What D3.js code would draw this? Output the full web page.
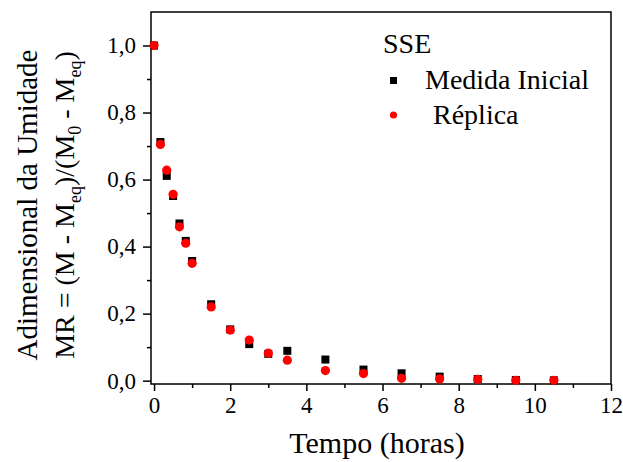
<html>
  <head>
    <style>
      body { margin: 0; background: #fff; }
      text { font-family: "Liberation Serif", "Times New Roman", serif; fill: #000; }
      .axis path, .axis line { stroke: #000; stroke-width: 1.5; }
      .axis text { font-size: 23px; font-family: "Liberation Serif", serif; }
    </style>
    <script src="https://d3js.org/d3.v7.min.js"></script>
  </head>
  <body></body>
</html>

<script>
  // data
  var tempo = [0, 0.167, 0.333, 0.5, 0.667, 0.833, 1, 1.5, 2, 2.5, 3, 3.5, 4.5, 5.5, 6.5, 7.5, 8.5, 9.5, 10.5];
  var medidaInicial = [1.0, 0.712, 0.611, 0.551, 0.469, 0.417, 0.357, 0.228, 0.153, 0.109, 0.08, 0.089, 0.063, 0.033, 0.022, 0.012, 0.005, 0.002, 0.001];
  var replica = [1.0, 0.705, 0.628, 0.556, 0.459, 0.410, 0.350, 0.220, 0.151, 0.121, 0.082, 0.061, 0.030, 0.021, 0.007, 0.005, 0.004, 0.001, 0.001];
  var xTicks = [0, 2, 4, 6, 8, 10, 12];
  var xMinor = [1, 3, 5, 7, 9, 11];
  var yTicks = [0, 0.2, 0.4, 0.6, 0.8, 1.0];
  var yMinor = [0.1, 0.3, 0.5, 0.7, 0.9];

  var width = 623, height = 462;
  var plotLeft = 151, plotRight = 611, plotTop = 12, plotBottom = 384;

  var svg = d3.select("body").append("svg")
    .attr("width", width)
    .attr("height", height);

  var xScale = d3.scaleLinear().domain([-0.08, 12]).range([plotLeft, plotRight]);
  var yScale = d3.scaleLinear().domain([-0.01, 1.1]).range([plotBottom, plotTop]);
  var fmt = function(d) { return d3.format(".1f")(d).replace(".", ","); };

  // frame
  svg.append("rect")
    .attr("x", plotLeft).attr("y", plotTop)
    .attr("width", plotRight - plotLeft).attr("height", plotBottom - plotTop)
    .attr("fill", "none").attr("stroke", "#000").attr("stroke-width", 1.5);

  // minor ticks first, then the major axis
  svg.append("g").attr("class", "axis")
    .attr("transform", "translate(0," + plotBottom + ")")
    .call(d3.axisBottom(xScale).tickValues(xMinor).tickSize(4).tickFormat(""))
    .select(".domain").remove();
  svg.append("g").attr("class", "axis")
    .attr("transform", "translate(0," + plotBottom + ")")
    .call(d3.axisBottom(xScale).tickValues(xTicks).tickSize(7).tickPadding(6).tickFormat(d3.format("d")))
    .select(".domain").remove();

  svg.append("g").attr("class", "axis")
    .attr("transform", "translate(" + plotLeft + ",0)")
    .call(d3.axisLeft(yScale).tickValues(yMinor).tickSize(4).tickFormat(""))
    .select(".domain").remove();
  svg.append("g").attr("class", "axis")
    .attr("transform", "translate(" + plotLeft + ",0)")
    .call(d3.axisLeft(yScale).tickValues(yTicks).tickSize(8).tickPadding(7).tickFormat(fmt))
    .select(".domain").remove();

  // points
  var data = tempo.map(function(t, i) { return { t: t, m: medidaInicial[i], r: replica[i] }; });

  svg.append("g").selectAll("rect")
    .data(data).enter().append("rect")
    .attr("x", d => xScale(d.t) - 4)
    .attr("y", d => yScale(d.m) - 4)
    .attr("width", 8).attr("height", 8)
    .attr("fill", "#000");

  svg.append("g").selectAll("circle")
    .data(data).enter().append("circle")
    .attr("cx", d => xScale(d.t))
    .attr("cy", d => yScale(d.r))
    .attr("r", 4.6)
    .attr("fill", "#ff0000");

  // axis titles
  svg.append("text")
    .attr("x", 377).attr("y", 453)
    .attr("text-anchor", "middle")
    .style("font-size", "30px")
    .text("Tempo (horas)");

  var yt = svg.append("g").attr("transform", "translate(0,205) rotate(-90)");
  yt.append("text")
    .attr("x", 0).attr("y", 37)
    .attr("text-anchor", "middle")
    .style("font-size", "29px")
    .text("Adimensional da Umidade");

  var t2 = yt.append("text")
    .attr("x", 0).attr("y", 74)
    .attr("text-anchor", "middle")
    .style("font-size", "28px");
  var parts = [["MR = (M - M", 0], ["eq", 1], [")/(M", 0], ["0", 1], [" - M", 0], ["eq", 1], [")", 0]];
  var prev = 0;
  parts.forEach(function(p) {
    t2.append("tspan")
      .attr("dy", p[1] ? 7 : (prev ? -7 : 0))
      .style("font-size", p[1] ? "18px" : "28px")
      .text(p[0]);
    prev = p[1];
  });

  // legend
  svg.append("text").attr("x", 383).attr("y", 53).style("font-size", "28px").text("SSE");
  svg.append("rect").attr("x", 390).attr("y", 77).attr("width", 7).attr("height", 7).attr("fill", "#000");
  svg.append("text").attr("x", 425).attr("y", 89).style("font-size", "28px").text("Medida Inicial");
  svg.append("circle").attr("cx", 393.5).attr("cy", 115).attr("r", 3.6).attr("fill", "#ff0000");
  svg.append("text").attr("x", 426).attr("y", 124).style("font-size", "28px").attr("xml:space", "preserve").text(" Réplica");
</script>
